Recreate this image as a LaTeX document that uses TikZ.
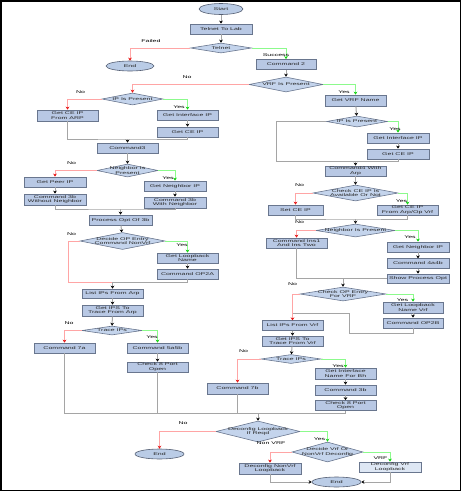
\documentclass[tikz,border=0pt]{standalone}
\usepackage{fontspec}
\usetikzlibrary{shapes.geometric,arrows.meta}
\newfontfamily\fcfont[FakeStretch=1.75]{Liberation Sans}
\definecolor{boxfill}{RGB}{184,200,228}
\definecolor{boxdraw}{RGB}{105,118,142}
\definecolor{diafill}{RGB}{196,212,236}
\definecolor{lightfill}{RGB}{222,231,244}
\definecolor{ellfill}{RGB}{186,204,230}
\definecolor{linegrey}{RGB}{165,165,165}
\definecolor{linered}{RGB}{255,165,165}
\definecolor{linegreen}{RGB}{140,250,140}
\definecolor{tipred}{RGB}{230,20,20}
\definecolor{tipgreen}{RGB}{20,210,20}
\definecolor{txt}{RGB}{40,40,40}
\begin{document}
\begin{tikzpicture}[x=1pt,y=-1pt,
  every node/.style={font=\fcfont\fontsize{4}{4.4}\selectfont, text=txt, inner sep=0pt, align=center},
  box/.style={rectangle, draw=boxdraw, fill=boxfill, line width=0.7pt, minimum width=61pt, minimum height=10pt},
  lbox/.style={box, fill=lightfill},
  dia/.style={diamond, draw=boxdraw, fill=diafill, line width=0.6pt, aspect=5},
  dtext/.style={},
  ell/.style={ellipse, draw=boxdraw!80!black, fill=ellfill, line width=0.6pt, minimum width=48pt, minimum height=10pt},
  lbl/.style={text=black},
  gl/.style={draw=linegrey, line width=1pt},
  ga/.style={gl, -{Stealth[length=3pt,width=3.6pt,color=black]}},
  rl/.style={draw=linered, line width=1pt, -{Stealth[length=3pt,width=3.6pt,color=tipred]}},
  rn/.style={draw=linered, line width=1pt},
  gn/.style={draw=linegreen, line width=1pt, -{Stealth[length=3pt,width=3.6pt,color=tipgreen]}}
]
\useasboundingbox (0,0) rectangle (461,491);
\draw[black, line width=1.5pt] (0.75,0.75) rectangle (460.25,490.25);

% ---------- top ----------
\node[ell, minimum width=44pt, minimum height=11pt] (start) at (221,9) {Start};
\node[box, minimum width=62pt] (lab) at (221,29) {Telnet To Lab};
\node[dia, minimum width=61pt, minimum height=10pt] (telnet) at (221,48) {};
\node (telnett) at (221,48) {Telnet};
\node[ell] (end1) at (130,66) {End};
\node[box, minimum width=60pt] (cmd2) at (286,64.5) {Command 2};
\node[dia, minimum width=74pt, minimum height=15pt] (vrfp) at (286,84.5) {};
\node (vrfpt) at (286,84.5) {VRF Is Present};

% ---------- right column ----------
\node[box, minimum height=11pt] (getvrf) at (355.5,100.5) {Get VRF Name};
\node[dia, minimum width=61pt, minimum height=11pt] (ipR) at (357,121.5) {};
\node (ipRt) at (357,121.5) {IP Is Present};
\node[box, minimum width=62pt] (getifR) at (398,138) {Get Interface IP};
\node[box, minimum width=62pt] (getceR) at (398,154) {Get CE IP};
\node[box] (cmd4) at (355.5,171) {Command4 With\\Arp};
\node[dia, minimum width=85pt, minimum height=16pt] (checkce) at (355.5,193) {};
\node (checkcet) at (355.5,193) {Check CE IP Is\\Available Or Not};
\node[box, minimum width=55pt] (setce) at (295.5,210) {Set CE IP};
\node[box] (getcearp) at (407.5,210) {Get CE IP\\From Arp/Op Vrf};
\node[dia, minimum width=79pt, minimum height=13pt] (nbrR) at (355.5,230.5) {};
\node (nbrRt) at (355.5,230.5) {Neighbor Is Present};
\node[box] (cmdins) at (296.5,243) {Command Ins1\\And Ins Two};
\node[box, minimum width=62pt] (getnbrR) at (418,247) {Get Neighbor IP};
\node[box, minimum width=62pt, minimum height=9.5pt] (cmd4a4b) at (418,263.5) {Command 4a4b};
\node[box, minimum width=62pt, minimum height=9pt] (showproc) at (418,278.5) {Show Process Opt};
\node[dia, minimum width=86pt, minimum height=14pt] (checkop) at (343,294) {};
\node (checkopt) at (343,294) {Check OP Entry\\For VRF};
\node[box, minimum width=60pt, minimum height=11pt] (getlbR) at (413,307.5) {Get Loopback\\Name Vrf};
\node[box, minimum width=60pt] (op2b) at (413,323) {Command OP2B};
\node[box, minimum height=9.5pt] (listvrf) at (292.5,325.5) {List IPs From Vrf};
\node[box] (getipsvrf) at (292.5,341) {Get IPS To\\Trace From Vrf};
\node[dia, minimum width=60pt, minimum height=9pt] (traceR) at (291,359) {};
\node (traceRt) at (291,359) {Trace IPs};
\node[box, minimum height=11pt] (getifname) at (345.5,373.5) {Get Interface\\Name For Bh};
\node[box] (cmd3b) at (345.5,390) {Command 3b};
\node[box] (check8R) at (345.5,405.5) {Check 8 Port\\Open};
\node[box, minimum height=11pt] (cmd7b) at (237.5,388.5) {Command 7b};

% ---------- left column ----------
\node[dia, minimum width=61pt, minimum height=12pt] (ipL) at (132.5,99) {};
\node (ipLt) at (132.5,99) {IP Is Present};
\node[box, minimum height=11pt] (getcearpL) at (67.5,115.5) {Get CE IP\\From ARP};
\node[box] (getifL) at (187.5,115) {Get Interface IP};
\node[box] (getceL) at (187.5,132) {Get CE IP};
\node[box] (cmd3) at (127.5,148) {Command3};
\node[dia, minimum width=61pt, minimum height=13pt] (nbrL) at (127.5,170.5) {};
\node (nbrLt) at (127.5,170.5) {Neighbor Is\\Present};
\node[box, minimum width=62pt] (getpeer) at (55,182) {Get Peer IP};
\node[box, minimum width=62pt, minimum height=11pt] (cmd3bwo) at (55,199.5) {Command 3b\\Without Neighbor};
\node[box, minimum width=62pt] (getnbrL) at (175,186) {Get Neighbor IP};
\node[box, minimum width=62pt, minimum height=11pt] (cmd3bw) at (175,202.5) {Command 3b\\With Neighbor};
\node[box, minimum width=63pt] (procopt) at (120.5,220) {Process Opt Of 3b};
\node[dia, minimum width=85pt, minimum height=17pt] (decop) at (122.5,241) {};
\node (decopt) at (122.5,241) {Decide OP Entry\\Command NonVrf};
\node[box] (getlbL) at (187.5,258) {Get Loopback\\Name};
\node[box] (op2a) at (187.5,274) {Command OP2A};
\node[box, minimum height=9pt] (listarp) at (112.5,293.5) {List IPs From Arp};
\node[box, minimum height=11pt] (getipsarp) at (112.5,310.5) {Get IPS To\\Trace From Arp};
\node[dia, minimum width=60pt, minimum height=9pt] (traceL) at (112,330.5) {};
\node (traceLt) at (112,330.5) {Trace IPs};
\node[box] (cmd7a) at (64.5,348) {Command 7a};
\node[box] (cmd5a5b) at (157.5,348) {Command 5a5b};
\node[box] (check8L) at (157.5,367) {Check 8 Port\\Open};

% ---------- bottom ----------
\node[dia, minimum width=84pt, minimum height=21pt] (deconfig) at (258,431.5) {};
\node (deconfigt) at (258,431.5) {Deconfig Loopback\\If Reqd};
\node[ell, minimum width=49pt] (end2) at (159.5,454) {End};
\node[dia, minimum width=71pt, minimum height=20pt] (decide) at (327.5,452) {};
\node (decidet) at (327.5,452) {Decide Vrf Or\\NonVrf Deconfig};
\node[box, minimum width=62pt, minimum height=11pt] (decnon) at (270,468.5) {Deconfig NonVrf\\Loopback};
\node[lbox, minimum width=62pt] (decvrf) at (390,467) {Deconfig Vrf\\Loopback};
\node[ell, minimum width=49pt] (end3) at (336.5,482) {End};

% ---------- coordinates ----------
\coordinate (m1) at (127.5,139);
\coordinate (m2) at (120.5,209);
\coordinate (c0) at (276,161);
\coordinate (m3) at (355.5,161);
\coordinate (m4) at (355.5,219);
\coordinate (m5) at (343,278.5);
\coordinate (c1) at (413,333);
\coordinate (c2) at (349,333);
\coordinate (c3) at (349,313);
\coordinate (c4) at (292.5,313);
\coordinate (d1) at (68,282);
\coordinate (m7) at (112.5,282);
\coordinate (b1) at (64.5,413);
\coordinate (b4) at (345.5,413);
\coordinate (m6) at (258,413);

% ---------- connectors ----------
\draw[ga] (start) -- (lab);
\draw[ga] (lab) -- (telnet);
\draw[rl] (telnet.west) -| (end1.north);
\draw[gn] (telnet.east) -| (cmd2.north);
\draw[ga] (cmd2) -- (vrfp);
\draw[rl] (vrfp.west) -| (ipL.north);
\draw[gn] (vrfp.east) -| (getvrf.north);
\draw[ga] (getvrf) -- (ipR);
\draw[gn] (ipR.east) -| (getifR.north);
\draw[ga] (getifR) -- (getceR);
\draw[gl] (ipR.west) -| (c0) -| (getceR.south);
\draw[ga] (m3) -- (cmd4.north);
\draw[ga] (cmd4) -- (checkce);
\draw[rl] (checkce.west) -| (setce.north);
\draw[gn] (checkce.east) -| (getcearp.north);
\draw[gl] (setce.south) |- (m4) -| (getcearp.south);
\draw[ga] (m4) -- (nbrR.north);
\draw[rl] (nbrR.west) -| (cmdins.north);
\draw[gn] (nbrR.east) -| (getnbrR.north);
\draw[ga] (getnbrR) -- (cmd4a4b);
\draw[ga] (cmd4a4b) -- (showproc);
\draw[gl] (cmdins.south) |- (showproc.west);
\draw[ga] (m5) -- (checkop.north);
\draw[rl] (checkop.west) -| (listvrf.north);
\draw[gn] (checkop.east) -| (getlbR.north);
\draw[ga] (getlbR) -- (op2b);
\draw[gl] (op2b.south) -- (c1) -- (c2) -- (c3) -- (c4);
\draw[ga] (listvrf) -- (getipsvrf);
\draw[ga] (getipsvrf) -- (traceR);
\draw[rl] (traceR.west) -| (cmd7b.north);
\draw[gn] (traceR.east) -| (getifname.north);
\draw[ga] (getifname) -- (cmd3b);
\draw[ga] (cmd3b) -- (check8R);

\draw[rl] (ipL.west) -| (getcearpL.north);
\draw[gn] (ipL.east) -| (getifL.north);
\draw[ga] (getifL) -- (getceL);
\draw[gl] (getcearpL.south) |- (m1) -| (getceL.south);
\draw[ga] (m1) -- (cmd3.north);
\draw[ga] (cmd3) -- (nbrL);
\draw[rl] (nbrL.west) -| (getpeer.north);
\draw[gn] (nbrL.east) -| (getnbrL.north);
\draw[ga] (getpeer) -- (cmd3bwo);
\draw[ga] (getnbrL) -- (cmd3bw);
\draw[gl] (cmd3bwo.south) |- (m2) -| (cmd3bw.south);
\draw[ga] (m2) -- (procopt.north);
\draw[ga] (procopt) -- (decop);
\draw[rn] (decop.west) -| (d1) -- (m7);
\draw[gn] (decop.east) -| (getlbL.north);
\draw[ga] (getlbL) -- (op2a);
\draw[gl] (op2a.south) |- (m7);
\draw[ga] (m7) -- (listarp.north);
\draw[ga] (listarp) -- (getipsarp);
\draw[ga] (getipsarp) -- (traceL);
\draw[rl] (traceL.west) -| (cmd7a.north);
\draw[gn] (traceL.east) -| (cmd5a5b.north);
\draw[ga] (cmd5a5b) -- (check8L);

\draw[gl] (cmd7a.south) -- (b1) -- (b4) -- (check8R.south);
\draw[gl] (check8L.south) -- (check8L.south |- b1);
\draw[gl] (cmd7b.south) -- (cmd7b.south |- b1);
\draw[ga] (m6) -- (deconfig.north);
\draw[rl] (deconfig.west) -| (end2.north);
\draw[gn] (deconfig.east) -| (decide.north);
\draw[rl] (decide.west) -| (decnon.north);
\draw[gn] (decide.east) -| (decvrf.north);
\draw[ga] (decnon.south) |- (end3.west);
\draw[ga] (decvrf.south) |- (end3.east);

% ---------- labels ----------
\node[lbl] (lfailed) at (151,41) {Failed};
\node[lbl] (lsucc) at (276,55) {Success};
\node[lbl] (lno1) at (187,77) {No};
\node[lbl] (lyes1) at (344,92) {Yes};
\node[lbl] (lyes2) at (395,129) {Yes};
\node[lbl] (lno2) at (299.5,185) {No};
\node[lbl] (lyes3) at (401.5,201) {Yes};
\node[lbl] (lno3) at (299.5,222) {No};
\node[lbl] (lyes4) at (410,237) {Yes};
\node[lbl] (lno4) at (292.5,284) {No};
\node[lbl] (lyes5) at (402.5,300) {Yes};
\node[lbl] (lno5) at (243.5,351) {No};
\node[lbl] (lyes6) at (338,366) {Yes};
\node[lbl] (lno6) at (80.5,92) {No};
\node[lbl] (lyes7) at (179,107) {Yes};
\node[lbl] (lno7) at (71.5,163) {No};
\node[lbl] (lyes8) at (168,178) {Yes};
\node[lbl] (lno8) at (71.5,234) {No};
\node[lbl] (lyes9) at (182,245) {Yes};
\node[lbl] (lno9) at (69,323) {No};
\node[lbl] (lyes10) at (152,337) {Yes};
\node[lbl] (lno10) at (183,423) {No};
\node[lbl] (lyes11) at (319.5,439) {Yes};
\node[lbl] (lnonvrf) at (271,443) {Non VRF};
\node[lbl] (lvrf) at (380.5,458) {VRF};
\end{tikzpicture}
\end{document}
